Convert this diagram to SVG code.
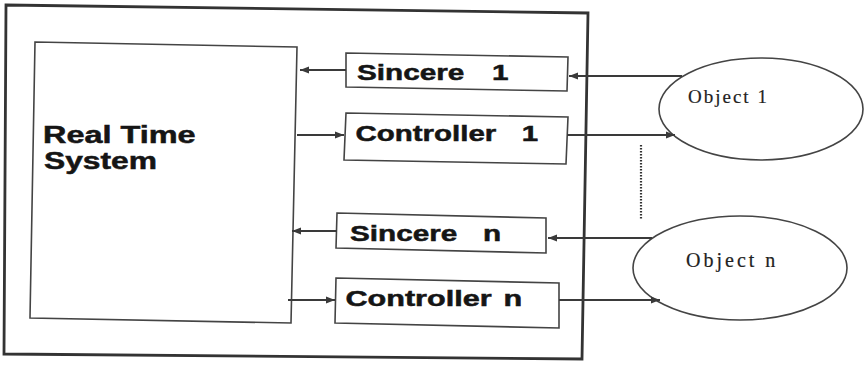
<svg xmlns="http://www.w3.org/2000/svg" width="865" height="369" viewBox="0 0 865 369">
<style>
.box{fill:#fff;stroke:#444;stroke-width:1.6}
.frame{fill:none;stroke:#333;stroke-width:2.8}
.lbl{font-family:"Liberation Sans",Arial,sans-serif;font-weight:bold;font-size:22px;fill:#151515;stroke:#151515;stroke-width:0.5}
.big{font-size:23px}
.obj{font-family:"Liberation Serif","Times New Roman",serif;fill:#222;stroke:#222;stroke-width:0.2}
.ell{fill:#fff;stroke:#444;stroke-width:1.6}
.con{stroke:#3a3a3a;stroke-width:2;fill:none}
.dot{stroke:#333;stroke-width:2.2;stroke-dasharray:1.4 1.6;fill:none}
</style>
<defs>
<marker id="ah" markerUnits="userSpaceOnUse" markerWidth="10" markerHeight="8" refX="9" refY="4" orient="auto">
<path d="M0,0.5 L9,4 L0,7.5 z" fill="#3a3a3a"/>
</marker>
</defs>
<rect width="865" height="369" fill="#fff"/>
<g id="frame">
<polygon class="frame" points="6,5 588,13 582,359 4,354"/>
</g>
<g id="rts">
<polygon class="box" points="35,42 297,47 291,323 30,318"/>
<text class="lbl big" transform="translate(43,143) scale(1.41,1)">Real Time</text>
<text class="lbl big" transform="translate(44,169) scale(1.38,1)">System</text>
</g>
<g id="sincere1">
<polygon class="box" points="346,53 568,57 567,91 346,87"/>
<text class="lbl" transform="translate(357,80) scale(1.35,1)">Sincere <tspan x="100">1</tspan></text>
</g>
<g id="controller1">
<polygon class="box" points="346,113 568,117 566,164 344,160"/>
<text class="lbl" transform="translate(355.5,141) scale(1.34,1)">Controller <tspan x="124">1</tspan></text>
</g>
<g id="sinceren">
<polygon class="box" points="337,213 546,218 546,253 336,248"/>
<text class="lbl" transform="translate(350,241) scale(1.35,1)">Sincere <tspan x="98.5">n</tspan></text>
</g>
<g id="controllern">
<polygon class="box" points="336,278 559,283 559,328 335,323"/>
<text class="lbl" transform="translate(345.5,306) scale(1.39,1)">Controller <tspan x="113.7">n</tspan></text>
</g>
<g id="object1">
<ellipse class="ell" cx="761" cy="109" rx="102" ry="51"/>
<text class="obj" x="688" y="103" style="font-size:19px;letter-spacing:2px">Object 1</text>
</g>
<g id="objectn">
<ellipse class="ell" cx="740" cy="268" rx="107" ry="52"/>
<text class="obj" x="686" y="267" style="font-size:20px;letter-spacing:3px">Object n</text>
</g>
<g id="connectors">
<line class="con" x1="346" y1="70" x2="300" y2="70" marker-end="url(#ah)"/>
<line class="con" x1="297" y1="135" x2="344" y2="135" marker-end="url(#ah)"/>
<line class="con" x1="337" y1="231" x2="292" y2="231" marker-end="url(#ah)"/>
<line class="con" x1="288" y1="300" x2="335" y2="300" marker-end="url(#ah)"/>
<line class="con" x1="682" y1="76" x2="569" y2="76" marker-end="url(#ah)"/>
<line class="con" x1="567" y1="135" x2="675" y2="135" marker-end="url(#ah)"/>
<line class="con" x1="652" y1="238" x2="548" y2="238" marker-end="url(#ah)"/>
<line class="con" x1="559" y1="300" x2="660" y2="300" marker-end="url(#ah)"/>
<line class="dot" x1="641" y1="145" x2="641" y2="220"/>
</g>
</svg>
